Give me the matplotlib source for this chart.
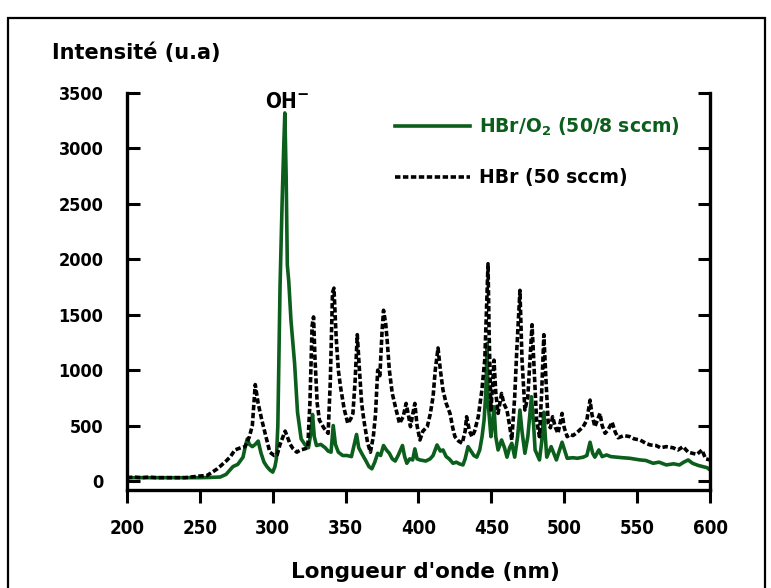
import matplotlib
matplotlib.use("Agg")
import matplotlib.pyplot as plt
from matplotlib.patches import Rectangle

# spectre HBr (50 sccm), trait pointillé noir
hbr_nm = [200, 205, 210, 215, 220, 230, 240, 250, 255, 262, 268, 271, 274, 278, 281, 284, 286,
          288, 290, 292.5, 295, 298, 301, 303, 305, 307, 308.5, 310, 312, 314, 316.5, 319, 322,
          324, 325.5, 327, 328, 329, 330.5, 332, 335, 338, 339.5, 341, 342, 343.5, 345, 346.5,
          349, 351.5, 353.5, 355, 356.5, 358, 359.5, 361, 362.5, 365, 367, 369, 370.5, 372,
          373.5, 375, 376, 377.5, 378.5, 380, 382, 384.5, 387, 389.5, 391.5, 393, 394.5, 396,
          397.5, 399, 401, 403, 406, 408, 410, 411.5, 413.4, 415, 416.8, 419, 421.6, 423.5, 425,
          427.5, 430, 432, 433, 435, 436.7, 438.5, 441, 443.5, 445.5, 446.8, 447.7, 448.5, 449.7,
          451, 451.8, 453, 454.6, 457, 458.5, 460.7, 462.5, 464, 466, 467.5, 469.6, 471, 473,
          475, 476.5, 477.9, 479, 481, 483, 484.5, 486, 487.5, 489, 490.5, 492, 494, 495.7,
          498.5, 500, 502, 504, 506, 509, 513, 515.5, 517.7, 519, 521, 524.5, 526, 528, 530,
          532.8, 535, 537, 541, 545, 548, 552, 556, 559, 563, 566, 570, 574.6, 578, 581.5, 585,
          588, 591, 594.5, 597, 600]
hbr_int = [30, 35, 30, 35, 30, 30, 30, 45, 50, 110, 180, 220, 280, 300, 310, 400, 500,
           870, 700, 550, 420, 260, 230, 235, 330, 400, 450, 400, 330, 290, 260, 280, 290,
           300, 700, 1400, 1480, 1100, 700, 550, 480, 430, 900, 1700, 1740, 1300, 1000, 850,
           650, 520, 560, 610, 900, 1320, 1000, 700, 550, 350, 260, 400, 600, 1000,
           950, 1350, 1540, 1420, 1270, 1000, 790, 650, 520, 580, 700, 600, 490, 600,
           700, 500, 370, 450, 490, 600, 760, 1000, 1200, 1000, 820, 700, 610, 480, 400,
           360, 340, 450, 580, 450, 400, 450, 580, 820, 1100, 1600, 1960, 1300, 640,
           900, 1090, 800, 610, 790, 700, 640, 500, 370, 760, 1200, 1720, 1100, 640,
           760, 1100, 1410, 1100, 550, 400, 800, 1320, 900, 520, 480, 580, 480, 430,
           610, 480, 400, 420, 410, 440, 490, 550, 730, 600, 490, 610, 500, 430, 460,
           530, 440, 390, 410, 400, 380, 370, 340, 325, 320, 300, 310, 300, 280, 310, 260,
           250, 240, 280, 200, 190]

# spectre HBr/O2 (50/8 sccm), trait plein vert
o2_nm = [200, 210, 220, 230, 240, 250, 257, 264, 268, 272.7, 276, 279.6, 281, 282.5, 284, 286,
         288, 290, 292, 294, 296, 298, 300, 301.5, 302.5, 303.5, 305, 306.5, 307.5, 308.3,
         309.2, 310, 311, 312.5, 315, 317, 319.5, 322, 324.5, 326, 327.3, 328.5, 330, 333,
         336, 338, 340, 341.5, 343, 345, 348, 351, 354, 357.5, 359, 361, 364, 366, 368, 370,
         372, 374, 376, 378, 380, 382, 384, 386, 389, 390.5, 392, 394, 396, 397.5, 399, 401,
         405, 408, 410, 412.7, 415, 416.8, 419, 421, 423.7, 426, 428, 430.5, 432, 434, 436,
         438, 440, 442, 443.6, 445, 446.2, 447, 447.8, 449.7, 451, 451.8, 453, 454.6, 457,
         459, 460.7, 462.5, 464, 466, 468, 469.6, 471, 473, 475, 477.5, 479, 480, 483, 484.5,
         486, 487, 488, 491, 494.6, 498.5, 502, 506, 509, 513, 515.5, 517.7, 519.5, 521,
         523.7, 526, 529, 532, 536, 540, 545, 552, 556, 561, 565, 570, 575, 579, 582, 585,
         588, 592, 595, 598, 600]
o2_int = [30, 30, 30, 30, 30, 30, 32, 36, 60, 130, 150, 215, 300, 380, 330, 310,
          330, 360, 250, 170, 130, 100, 80, 130, 200, 500, 1750, 2550, 3000, 3320,
          2750, 1950, 1800, 1450, 1060, 620, 380, 330, 300, 420, 600, 400, 320, 330,
          300, 270, 260, 500, 330, 260, 230, 230, 220, 420, 300, 250, 180, 130, 110, 170,
          250, 230, 320, 280, 250, 200, 180, 230, 320, 220, 160, 200, 190, 290, 200, 190,
          180, 200, 230, 325, 270, 280, 220, 200, 160, 170, 155, 145, 200, 310, 270,
          230, 215, 280, 400, 550, 800, 1240, 700, 400, 550, 670, 400, 280, 370,
          300, 215, 300, 340, 215, 400, 640, 450, 250, 400, 760, 500, 280, 190, 350,
          620, 400, 215, 310, 190, 350, 205, 210, 205, 215, 230, 350, 250, 215,
          280, 220, 235, 220, 215, 210, 205, 190, 185, 160, 170, 145, 155, 145, 170, 190,
          160, 140, 130, 120, 100]

x_ticks = [200, 250, 300, 350, 400, 450, 500, 550, 600]
y_ticks = [0, 500, 1000, 1500, 2000, 2500, 3000, 3500]

green = '#0b5e1b'
cond = dict(family='DejaVu Sans', fontstretch='condensed', fontweight='bold')
wide = dict(family='DejaVu Sans', fontweight='bold')

fig = plt.figure(figsize=(7.71, 5.88), dpi=100)
ax = fig.add_axes([0.1647, 0.1667, 0.7562, 0.6751])

ax.plot(o2_nm, o2_int, color=green, lw=2.6, label=r'HBr/O$_{\mathbf{2}}$ (50/8 sccm)')
ax.plot(hbr_nm, hbr_int, color='black', lw=2.6, linestyle=(0, (1.5, 0.7)),
        dash_capstyle='butt', label='HBr (50 sccm)')

ax.set_xlim(200, 600)
ax.set_ylim(-81, 3500)
ax.set_xticks(x_ticks)
ax.set_yticks(y_ticks)
ax.set_xticklabels([str(v) for v in x_ticks], **cond, fontsize=13.5)
ax.set_yticklabels([str(v) for v in y_ticks], **cond, fontsize=13)

ax.spines['top'].set_visible(False)
for s in ['left', 'right', 'bottom']:
    ax.spines[s].set_linewidth(2.4)
ax.tick_params(axis='y', direction='in', length=9, width=2.2, left=True, right=True, pad=17)
ax.tick_params(axis='x', direction='out', length=9, width=2.2, pad=12)

fig.text(0.067, 0.9, 'Intensité (u.a)', fontsize=15, **wide)
fig.text(0.552, 0.017, "Longueur d'onde (nm)", fontsize=15.5, ha='center', **wide)
ax.text(310, 3330, r'OH$^{\mathbf{-}}$', fontsize=15, ha='center', va='bottom', **cond)

leg = ax.legend(loc='upper left', bbox_to_anchor=(0.43, 0.985), frameon=False,
                handlelength=4.0, handletextpad=0.5, labelspacing=1.6,
                prop=dict(family='DejaVu Sans', weight='bold', size=13.5))
leg.get_texts()[0].set_color(green)

# cadre autour de la figure
fig.add_artist(Rectangle((8 / 771, -0.05), 757 / 771, 1.05 - 18 / 588, transform=fig.transFigure,
                         fill=False, lw=1.6, edgecolor='black'))

fig.savefig('out.png', dpi=100)
